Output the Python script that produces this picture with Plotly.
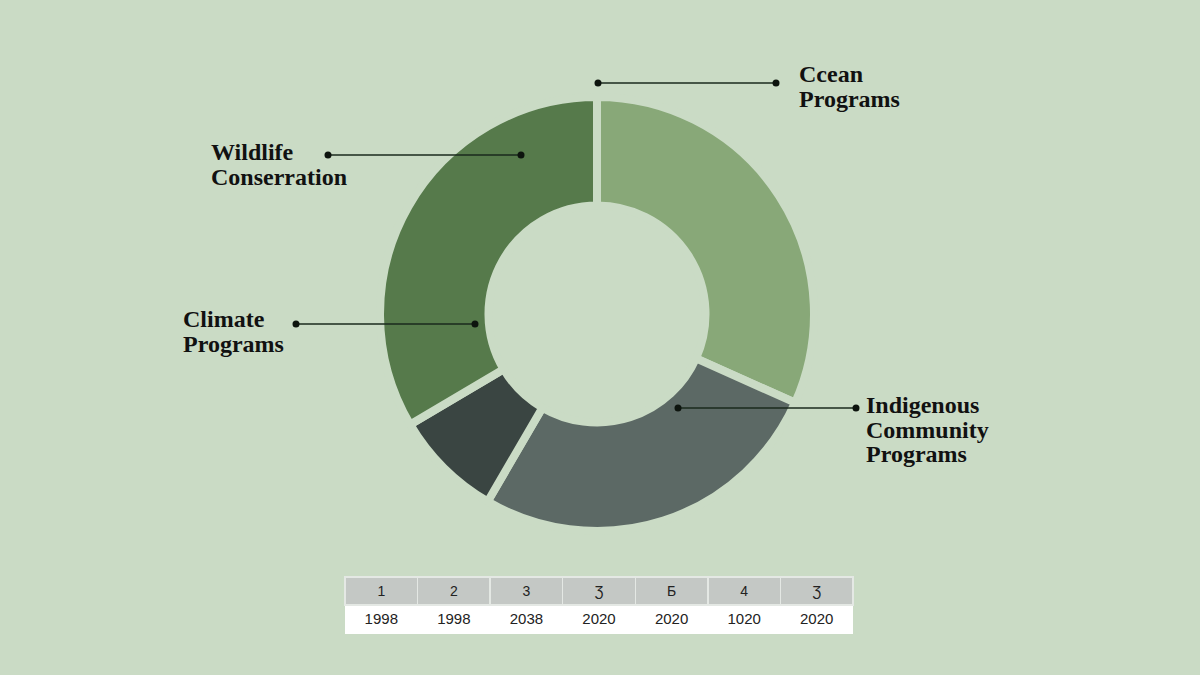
import plotly.graph_objects as go

# ---- data ----
segments = ["Ocean Programs", "Indigenous Community Programs", "Other Programs", "Wildlife & Climate Programs"]
shares = [31.7, 26.7, 8.1, 33.5]
seg_colors = ["#88a878", "#5c6965", "#3a4542", "#567a4b"]

header_labels = ["1", "2", "3", "Ʒ", "Б", "4", "Ʒ"]
year_labels = ["1998", "1998", "2038", "2020", "2020", "1020", "2020"]

callout_lines = [["Ccean", "Programs"], ["Wildlife", "Conserration"], ["Climate", "Programs"],
                 ["Indigenous", "Community", "Programs"]]

BG = "#cadbc5"
W, H = 1200, 675

fig = go.Figure()

R = 217
CX, CY = 597, 314
fig.add_trace(go.Pie(
    labels=segments, values=shares, sort=False, direction="clockwise", rotation=0,
    hole=0.5, textinfo="none", hoverinfo="label+percent",
    marker=dict(colors=seg_colors, line=dict(color=BG, width=8)),
    domain=dict(x=[(CX - R) / W, (CX + R) / W], y=[1 - (CY + R) / H, 1 - (CY - R) / H]),
    showlegend=False,
))

fig.add_trace(go.Table(
    columnwidth=[1] * 7,
    header=dict(values=header_labels, fill_color="#c4c8c5", line=dict(color="#e4e8e4", width=1.5),
                align="center", height=28, font=dict(family="Liberation Sans", size=14, color="#222")),
    cells=dict(values=[[y] for y in year_labels], fill_color="#ffffff", line=dict(color="#ffffff", width=1),
               align="center", height=28, font=dict(family="Liberation Sans", size=15, color="#222")),
    domain=dict(x=[345 / W, 853 / W], y=[1 - 636 / H, 1 - 577 / H]),
))

# leader lines with end dots (drawn above the donut)
leaders = [((598, 83), (776, 83)), ((328, 155), (521, 155)), ((296, 324), (475, 324)), ((678, 408), (856, 408))]
shapes = []
r = 3.5
for (x0, y0), (x1, y1) in leaders:
    shapes.append(dict(type="line", xref="x", yref="y", x0=x0, y0=y0, x1=x1, y1=y1, layer="above",
                       line=dict(color="#1a2a1c", width=1.6)))
    for (cx, cy) in [(x0, y0), (x1, y1)]:
        shapes.append(dict(type="circle", xref="x", yref="y", x0=cx - r, x1=cx + r, y0=cy - r, y1=cy + r,
                           layer="above", fillcolor="#0d140e", line=dict(width=0)))

label_pos = [(797, 74), (209, 152), (181, 319), (864, 405)]
pitch = 24.5
for lines, (x, y) in zip(callout_lines, label_pos):
    for i, t in enumerate(lines):
        fig.add_annotation(x=x, y=y + i * pitch, xref="x", yref="y", text=f"<b>{t}</b>", showarrow=False,
                           xanchor="left", yanchor="middle", align="left",
                           font=dict(family="Liberation Serif", size=24, color="#111"))

fig.update_layout(
    width=W, height=H, paper_bgcolor=BG, plot_bgcolor="rgba(0,0,0,0)",
    margin=dict(l=0, r=0, t=0, b=0), shapes=shapes,
    xaxis=dict(range=[0, W], visible=False, domain=[0, 1], fixedrange=True),
    yaxis=dict(range=[H, 0], visible=False, domain=[0, 1], fixedrange=True),
)

fig.write_html("out.html", config={"displayModeBar": False},
               post_script=f"document.body.style.margin='0';document.body.style.background='{BG}';")
